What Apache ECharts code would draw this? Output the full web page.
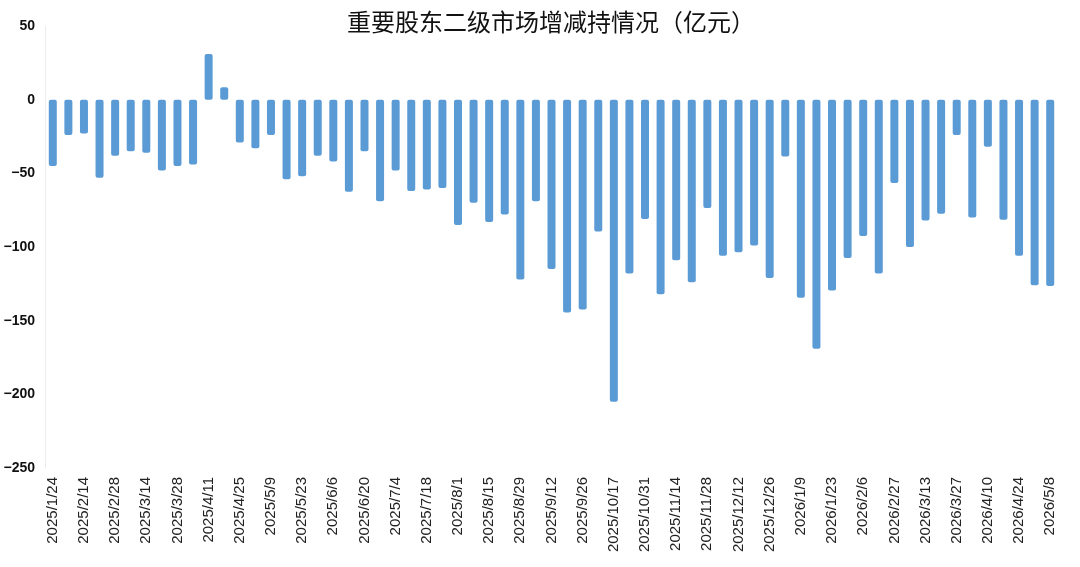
<!DOCTYPE html>
<html>
<head>
<meta charset="utf-8">
<script src="https://cdn.jsdelivr.net/npm/echarts@6/dist/echarts.min.js"></script>
</head>
<body style="margin:0; background:#fff;">
<div id="chart" style="width:1080px; height:567px;"></div>
<script>
// 周度日期
const dates = [
    "2025/1/24", "2025/2/7", "2025/2/14", "2025/2/21", "2025/2/28", "2025/3/7", "2025/3/14", "2025/3/21",
    "2025/3/28", "2025/4/3", "2025/4/11", "2025/4/18", "2025/4/25", "2025/4/30", "2025/5/9", "2025/5/16",
    "2025/5/23", "2025/5/30", "2025/6/6", "2025/6/13", "2025/6/20", "2025/6/27", "2025/7/4", "2025/7/11",
    "2025/7/18", "2025/7/25", "2025/8/1", "2025/8/8", "2025/8/15", "2025/8/22", "2025/8/29", "2025/9/5",
    "2025/9/12", "2025/9/19", "2025/9/26", "2025/10/10", "2025/10/17", "2025/10/24", "2025/10/31", "2025/11/7",
    "2025/11/14", "2025/11/21", "2025/11/28", "2025/12/5", "2025/12/12", "2025/12/19", "2025/12/26", "2025/12/31",
    "2026/1/9", "2026/1/16", "2026/1/23", "2026/1/30", "2026/2/6", "2026/2/13", "2026/2/27", "2026/3/6",
    "2026/3/13", "2026/3/20", "2026/3/27", "2026/4/3", "2026/4/10", "2026/4/17", "2026/4/24", "2026/4/30",
    "2026/5/8"
]

// 净增减持（亿元）
const netChange = [
    -45, -24, -23, -53, -38, -35, -36, -48,
    -45, -44, 31, 8.5, -29, -33, -24, -54,
    -52, -38, -42, -62.5, -35, -69, -48, -62,
    -61, -60, -85, -70, -83, -78, -122, -69,
    -115, -144.5, -142.5, -89.5, -205, -118, -81, -132,
    -109, -124, -73.5, -106, -103.5, -99, -121, -38.5,
    -134.5, -169, -129.5, -107.5, -92.5, -118, -56.5, -100,
    -82, -77.5, -24, -80, -32, -81.5, -106, -126,
    -126.5
]

const yTicks = { min: -250, max: 50, interval: 50 }

let myChart = echarts.init(document.getElementById("chart"))
let option = {
    animation: false,
    title: {
        text: "重要股东二级市场增减持情况（亿元）",
        left: 546,
        top: 5,
        textAlign: "center",
        textStyle: {
            fontFamily: "Noto Sans CJK SC",
            fontSize: 24,
            fontWeight: "normal",
            color: "#111"
        }
    },
    grid: {
        left: 45,
        right: 22,
        top: 26,
        bottom: 99,
        containLabel: false
    },
    xAxis: {
        type: "category",
        data: dates,
        axisLine: { show: false },
        axisTick: { show: false },
        axisLabel: {
            interval: 1,
            rotate: 90,
            margin: 9,
            fontFamily: "Liberation Sans",
            fontSize: 15,
            color: "#222"
        }
    },
    yAxis: {
        type: "value",
        min: yTicks.min,
        max: yTicks.max,
        interval: yTicks.interval,
        splitLine: { show: false },
        axisTick: { show: false },
        axisLine: {
            show: true,
            lineStyle: { color: "#ececf0", width: 1 }
        },
        axisLabel: {
            margin: 10,
            fontFamily: "Liberation Sans",
            fontSize: 14,
            fontWeight: "bold",
            color: "#111",
            formatter: v => String(v).replace("-", "−")
        }
    },
    series: [
        {
            type: "bar",
            data: netChange,
            barWidth: 8,
            itemStyle: {
                color: "#5b9bd5",
                borderRadius: 2
            }
        }
    ]
}
myChart.setOption(option)
</script>
</body>
</html>
